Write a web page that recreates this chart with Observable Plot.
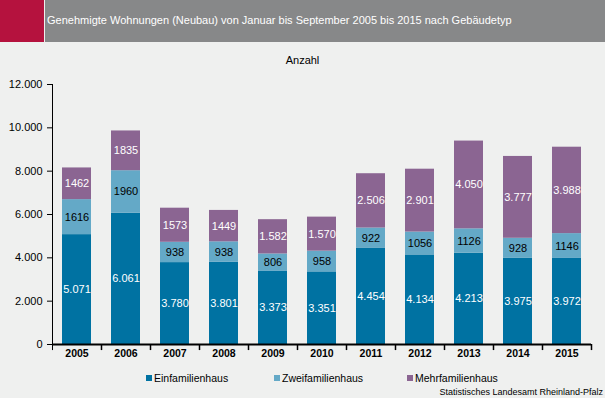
<!DOCTYPE html>
<html><head><meta charset="utf-8">
<script src="https://cdn.jsdelivr.net/npm/d3@7"></script>
<script src="https://cdn.jsdelivr.net/npm/@observablehq/plot@0.6"></script>
<style>
body{margin:0;background:#eff0ef;font-family:"Liberation Sans",Arial,sans-serif;}
#page{position:relative;width:605px;height:398px;overflow:hidden;background:#eff0ef;}
#red{position:absolute;left:0;top:0;width:44px;height:42px;background:#b5123e;}
#gray{position:absolute;left:45px;top:0;width:560px;height:42px;background:#878889;}
#title{position:absolute;left:47px;top:14px;color:#fff;font-size:11px;white-space:nowrap;}
#unit{position:absolute;left:0;width:605px;top:54px;text-align:center;font-size:11px;color:#000;}
#chart{position:absolute;left:0;top:50px;}
.leg{position:absolute;top:372px;font-size:10.5px;color:#000;white-space:nowrap;}
.sw{display:inline-block;width:6px;height:6px;margin-right:2px;vertical-align:1px;}
#src{position:absolute;right:2px;top:387px;font-size:9px;color:#000;}
</style></head>
<body><div id="page">
<div id="red"></div><div id="gray"></div>
<div id="title">Genehmigte Wohnungen (Neubau) von Januar bis September 2005 bis 2015 nach Gebäudetyp</div>
<div id="unit">Anzahl</div>
<div id="chart"></div>
<div id="legend"></div>
<div id="src">Statistisches Landesamt Rheinland-Pfalz</div>
</div>
<script>
const years = ["2005","2006","2007","2008","2009","2010","2011","2012","2013","2014","2015"];
const seriesNames = ["Einfamilienhaus","Zweifamilienhaus","Mehrfamilienhaus"];
const einfam = [5071,6061,3780,3801,3373,3351,4454,4134,4213,3975,3972];
const zweifam = [1616,1960,938,938,806,958,922,1056,1126,928,1146];
const mehrfam = [1462,1835,1573,1449,1582,1570,2506,2901,4050,3777,3988];
const einfamLabels = ["5.071","6.061","3.780","3.801","3.373","3.351","4.454","4.134","4.213","3.975","3.972"];
const zweifamLabels = ["1616","1960","938","938","806","958","922","1056","1126","928","1146"];
const mehrfamLabels = ["1462","1835","1573","1449","1.582","1.570","2.506","2.901","4.050","3.777","3.988"];
const yTicks = [0,2000,4000,6000,8000,10000,12000];
const colors = ["#0072a2","#64a9c7","#8b6592"];
const textColors = ["#ffffff","#000000","#ffffff"];

const seriesVals = [einfam, zweifam, mehrfam];
const seriesLabels = [einfamLabels, zweifamLabels, mehrfamLabels];
const rows = [];
years.forEach((yr, i) => {
  let base = 0;
  seriesNames.forEach((s, k) => {
    const v = seriesVals[k][i];
    rows.push({year: yr, series: s, y1: base, y2: base + v, mid: base + v/2, label: seriesLabels[k][i], tc: textColors[k]});
    base += v;
  });
});
const fmt = d3.formatLocale({decimal:",", thousands:".", grouping:[3], currency:["","€"]}).format(",d");

const chart = Plot.plot({
  width: 605, height: 312,
  marginLeft: 52, marginRight: 14, marginTop: 34, marginBottom: 18,
  style: {background: "transparent", fontFamily: "Liberation Sans, Arial, sans-serif", color: "#000"},
  x: {domain: years, paddingInner: 0.4, paddingOuter: 0.2, label: null, tickSize: 0, tickPadding: 5},
  y: {domain: [0, 12000], label: null, ticks: yTicks, tickFormat: fmt, tickSize: 5, tickPadding: 5},
  color: {domain: seriesNames, range: colors},
  marks: [
    Plot.barY(rows, {x: "year", y1: "y1", y2: "y2", fill: "series"}),
    Plot.text(rows, {x: "year", y: "mid", text: "label", fill: "tc", fontSize: 11}),
    Plot.ruleX([0], {x: () => years[0], dx: -24.5, y1: -280, y2: 12000, stroke: "#000"}),
    Plot.ruleX(years, {x: d => d, dx: 24.5, y1: -280, y2: 0, stroke: "#000", strokeWidth: 1.5}),
    Plot.ruleY([0], {stroke: "#000", strokeWidth: 2})
  ]
});
chart.querySelectorAll('g[aria-label="x-axis tick label"] text, g[aria-label="x-axis"] text').forEach(t => {t.setAttribute("font-weight","bold"); t.setAttribute("font-size","10.5");});
chart.querySelectorAll('g[aria-label="y-axis tick label"] text').forEach(t => t.setAttribute("font-size","11"));
document.getElementById("chart").appendChild(chart);

const legX = [146, 274, 407];
const leg = document.getElementById("legend");
seriesNames.forEach((s, k) => {
  const d = document.createElement("div");
  d.className = "leg";
  d.style.left = legX[k] + "px";
  d.innerHTML = `<span class="sw" style="background:${colors[k]}"></span>${s}`;
  leg.appendChild(d);
});
</script>
</body></html>
